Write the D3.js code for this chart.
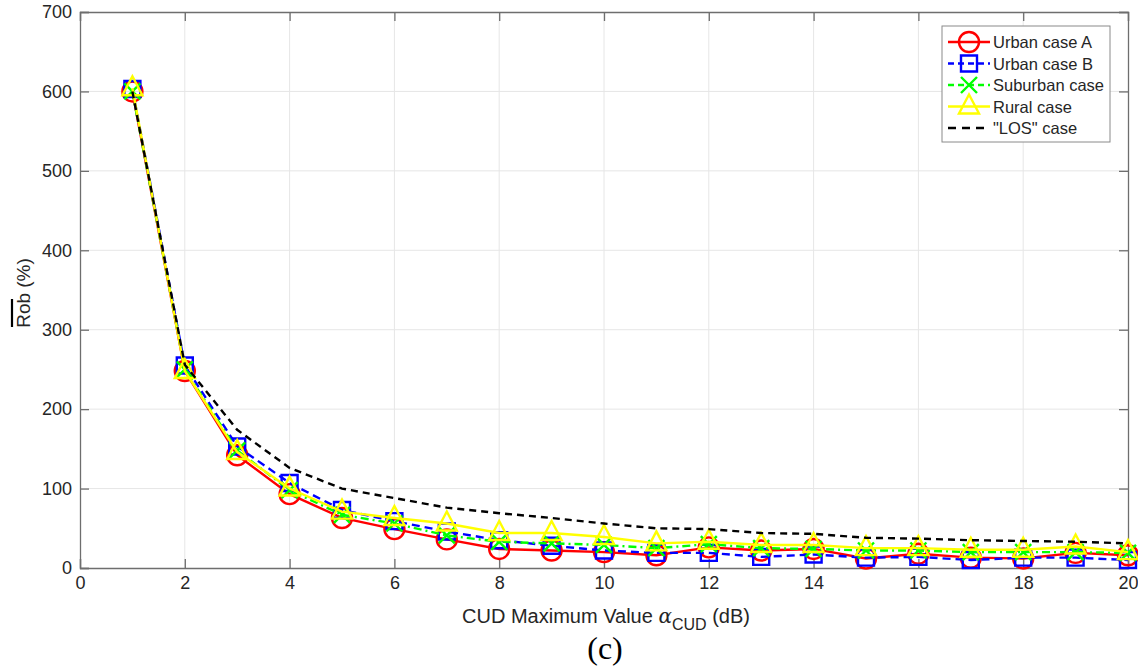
<!DOCTYPE html>
<html>
<head>
<meta charset="utf-8">
<script src="https://cdn.jsdelivr.net/npm/d3@7"></script>
<style>
  body { margin: 0; background: #fff; }
  svg { display: block; font-family: "Liberation Sans", Arial, sans-serif; }
</style>
</head>
<body>
<svg width="1138" height="666"></svg>
<script>
// data
const alphaMax = [1, 2, 3, 4, 5, 6, 7, 8, 9, 10, 11, 12, 13, 14, 15, 16, 17, 18, 19, 20];
const urbanA   = [600, 248, 142, 93, 63, 49, 36, 24, 22, 20, 16, 26, 22, 24, 12, 18, 13, 12, 19, 16];
const urbanB   = [603, 255, 153, 107, 73, 59, 46, 35, 28, 22, 19, 19, 14, 17, 13, 14, 10, 13, 13, 10];
const suburban = [600, 250, 148, 98, 67, 56, 41, 33, 31, 29, 25, 30, 25, 24, 22, 22, 20, 20, 20, 19];
const rural    = [604, 248, 146, 100, 71, 63, 56, 44, 44, 39, 31, 33, 29, 29, 25, 25, 23, 23, 27, 20];
const los      = [600, 256, 174, 126, 100, 88, 76, 69, 63, 56, 50, 49, 44, 43, 38, 37, 35, 34, 33, 31];

const xTicks = [0, 2, 4, 6, 8, 10, 12, 14, 16, 18, 20];
const yTicks = [0, 100, 200, 300, 400, 500, 600, 700];

const series = [
  { name: "Urban case A",  values: urbanA,   color: "#ff0000", dash: null,        marker: "circle" },
  { name: "Urban case B",  values: urbanB,   color: "#0000ff", dash: "8,5",       marker: "square" },
  { name: "Suburban case", values: suburban, color: "#00ff00", dash: "8,4,2,4",   marker: "x" },
  { name: "Rural case",    values: rural,    color: "#ffff00", dash: null,        marker: "triangle" },
  { name: "\"LOS\" case",  values: los,      color: "#000000", dash: "7,5",       marker: null }
];

const svg = d3.select("svg");
const x = d3.scaleLinear().domain([0, 20]).range([80, 1128]);
const y = d3.scaleLinear().domain([0, 700]).range([568, 12]);
const axisColor = "#6e6e6e";
const textColor = "#262626";

// grid
svg.append("g").selectAll("line.gx")
  .data(xTicks.slice(1, -1))
  .join("line")
  .attr("x1", d => x(d)).attr("x2", d => x(d))
  .attr("y1", y(700)).attr("y2", y(0))
  .attr("stroke", "#e6e6e6").attr("stroke-width", 1);
svg.append("g").selectAll("line.gy")
  .data(yTicks.slice(1, -1))
  .join("line")
  .attr("x1", x(0)).attr("x2", x(20))
  .attr("y1", d => y(d)).attr("y2", d => y(d))
  .attr("stroke", "#e6e6e6").attr("stroke-width", 1);

// axes (MATLAB-style: ticks inward, box on)
const xAxis = d3.axisBottom(x).tickValues(xTicks).tickSize(-9).tickPadding(8);
const yAxis = d3.axisLeft(y).tickValues(yTicks).tickSize(-9).tickPadding(8);
const gx = svg.append("g").attr("transform", `translate(0,${y(0)})`).call(xAxis);
const gy = svg.append("g").attr("transform", `translate(${x(0)},0)`).call(yAxis);
const gyR = svg.append("g").attr("transform", `translate(${x(20)},0)`)
  .call(d3.axisRight(y).tickValues(yTicks).tickSize(-9).tickFormat(""));
const gxT = svg.append("g").attr("transform", `translate(0,${y(700)})`)
  .call(d3.axisTop(x).tickValues(xTicks).tickSize(-9).tickFormat(""));
[gx, gy, gyR, gxT].forEach(g => {
  g.select(".domain").attr("stroke", axisColor).attr("stroke-width", 1.3);
  g.selectAll(".tick line").attr("stroke", axisColor).attr("stroke-width", 1.3);
  g.selectAll(".tick text").attr("fill", textColor)
    .style("font-size", "18px").style("font-family", "'Liberation Sans', Arial, sans-serif");
});

// marker paths
function markerPath(type) {
  if (type === "circle") return d3.arc()({ innerRadius: 0, outerRadius: 10, startAngle: 0, endAngle: 2 * Math.PI });
  if (type === "square") return "M-8,-8H8V8H-8Z";
  if (type === "x") return "M-8,-8L8,8M-8,8L8,-8";
  if (type === "triangle") return "M0,-12L10,7H-10Z";
  return "";
}

const line = d3.line().x((d, i) => x(alphaMax[i])).y(d => y(d));
const plot = svg.append("g");
series.forEach(s => {
  const g = plot.append("g");
  g.append("path")
    .attr("d", line(s.values))
    .attr("fill", "none")
    .attr("stroke", s.color)
    .attr("stroke-width", 2.4)
    .attr("stroke-dasharray", s.dash);
  if (s.marker) {
    g.selectAll("path.m")
      .data(s.values)
      .join("path")
      .attr("class", "m")
      .attr("transform", (d, i) => `translate(${x(alphaMax[i])},${y(d)})`)
      .attr("d", markerPath(s.marker))
      .attr("fill", "none")
      .attr("stroke", s.color)
      .attr("stroke-width", 2.4);
  }
});

// legend
const lg = svg.append("g").attr("transform", "translate(942,26)");
lg.append("rect").attr("width", 168).attr("height", 116)
  .attr("fill", "#fff").attr("stroke", "#8a8a8a").attr("stroke-width", 1);
series.forEach((s, i) => {
  const cy = 16 + i * 21.5;
  const row = lg.append("g").attr("transform", `translate(0,${cy})`);
  row.append("line").attr("x1", 6).attr("x2", 48).attr("y1", 0).attr("y2", 0)
    .attr("stroke", s.color).attr("stroke-width", 2.4)
    .attr("stroke-dasharray", s.dash ? (s.marker ? "6,4" : "8,6") : null);
  if (s.marker) {
    row.append("path").attr("transform", "translate(27,0)")
      .attr("d", markerPath(s.marker))
      .attr("fill", "none").attr("stroke", s.color).attr("stroke-width", 2.4);
  }
  row.append("text").attr("x", 51).attr("y", 6)
    .attr("fill", textColor).style("font-size", "16.5px").text(s.name);
});

// axis labels
const xl = svg.append("text")
  .attr("x", x(10) + 2).attr("y", 623)
  .attr("text-anchor", "middle").attr("fill", textColor).style("font-size", "20px");
xl.append("tspan").text("CUD Maximum Value ");
xl.append("tspan").style("font-family", "'DejaVu Serif', serif").style("font-style", "italic").style("font-size", "20px").text("α");
xl.append("tspan").attr("dy", 7).style("font-size", "16px").text("CUD");
xl.append("tspan").attr("dy", -7).text(" (dB)");

const yl = svg.append("g").attr("transform", "translate(30,293) rotate(-90)");
yl.append("text").attr("text-anchor", "middle").attr("fill", textColor)
  .style("font-size", "19px").text("Rob (%)");
yl.append("line").attr("x1", -34).attr("x2", -6).attr("y1", -18).attr("y2", -18)
  .attr("stroke", "#000").attr("stroke-width", 2.2);

// sub-figure caption
svg.append("text").attr("x", 605).attr("y", 659)
  .attr("text-anchor", "middle").attr("fill", "#000")
  .style("font-family", "'Liberation Serif', 'Times New Roman', serif")
  .style("font-size", "32px").text("(c)");
</script>
</body>
</html>
